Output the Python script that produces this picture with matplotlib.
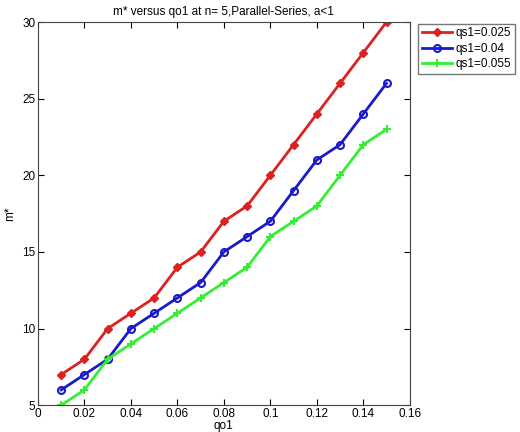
import matplotlib
matplotlib.use("Agg")
import matplotlib.pyplot as plt

x = [0.01, 0.02, 0.03, 0.04, 0.05, 0.06, 0.07, 0.08, 0.09, 0.10, 0.11, 0.12, 0.13, 0.14, 0.15]
red = [7, 8, 10, 11, 12, 14, 15, 17, 18, 20, 22, 24, 26, 28, 30]
blue = [6, 7, 8, 10, 11, 12, 13, 15, 16, 17, 19, 21, 22, 24, 26]
green = [5, 6, 8, 9, 10, 11, 12, 13, 14, 16, 17, 18, 20, 22, 23]
labels = ["qs1=0.025", "qs1=0.04", "qs1=0.055"]
xticks = [0, 0.02, 0.04, 0.06, 0.08, 0.1, 0.12, 0.14, 0.16]
xticklabels = ["0", "0.02", "0.04", "0.06", "0.08", "0.1", "0.12", "0.14", "0.16"]
yticks = [5, 10, 15, 20, 25, 30]

plt.rcParams['font.family'] = ['Liberation Sans', 'DejaVu Sans']
fig = plt.figure(figsize=(5.2, 4.32), dpi=100)
ax = fig.add_axes([0.073, 0.062, 0.715, 0.887])
ax.plot(x, red, color='#dd2020', lw=2, marker='D', ms=4, mfc='#dd2020', mec='#dd2020', label=labels[0])
ax.plot(x, blue, color='#1a1acc', lw=2, marker='o', ms=5, mfc='none', mec='#1a1acc', mew=1.5, label=labels[1])
ax.plot(x, green, color='#33ee33', lw=2, marker='+', ms=6, mew=1.5, label=labels[2])
ax.set_xlim(0, 0.16)
ax.set_ylim(5, 30)
ax.set_xticks(xticks)
ax.set_xticklabels(xticklabels)
ax.set_yticks(yticks)
ax.tick_params(direction='in', top=True, right=True, labelsize=8.5, length=4, pad=2)
for s in ax.spines.values():
    s.set_color('#444444')
ax.set_xlabel('qo1', fontsize=8.5, labelpad=0)
ax.set_ylabel('m*', fontsize=8.5, labelpad=4)
ax.set_title('m* versus qo1 at n= 5,Parallel-Series, a<1', fontsize=8.5, pad=5)
fig.legend(loc='upper left', bbox_to_anchor=(0.804, 0.945), fontsize=8.5, frameon=True,
           fancybox=False, edgecolor='#555555', handlelength=2.6, handletextpad=0.3,
           borderpad=0.3, labelspacing=0.3, borderaxespad=0)
fig.savefig('out.png', dpi=100)
